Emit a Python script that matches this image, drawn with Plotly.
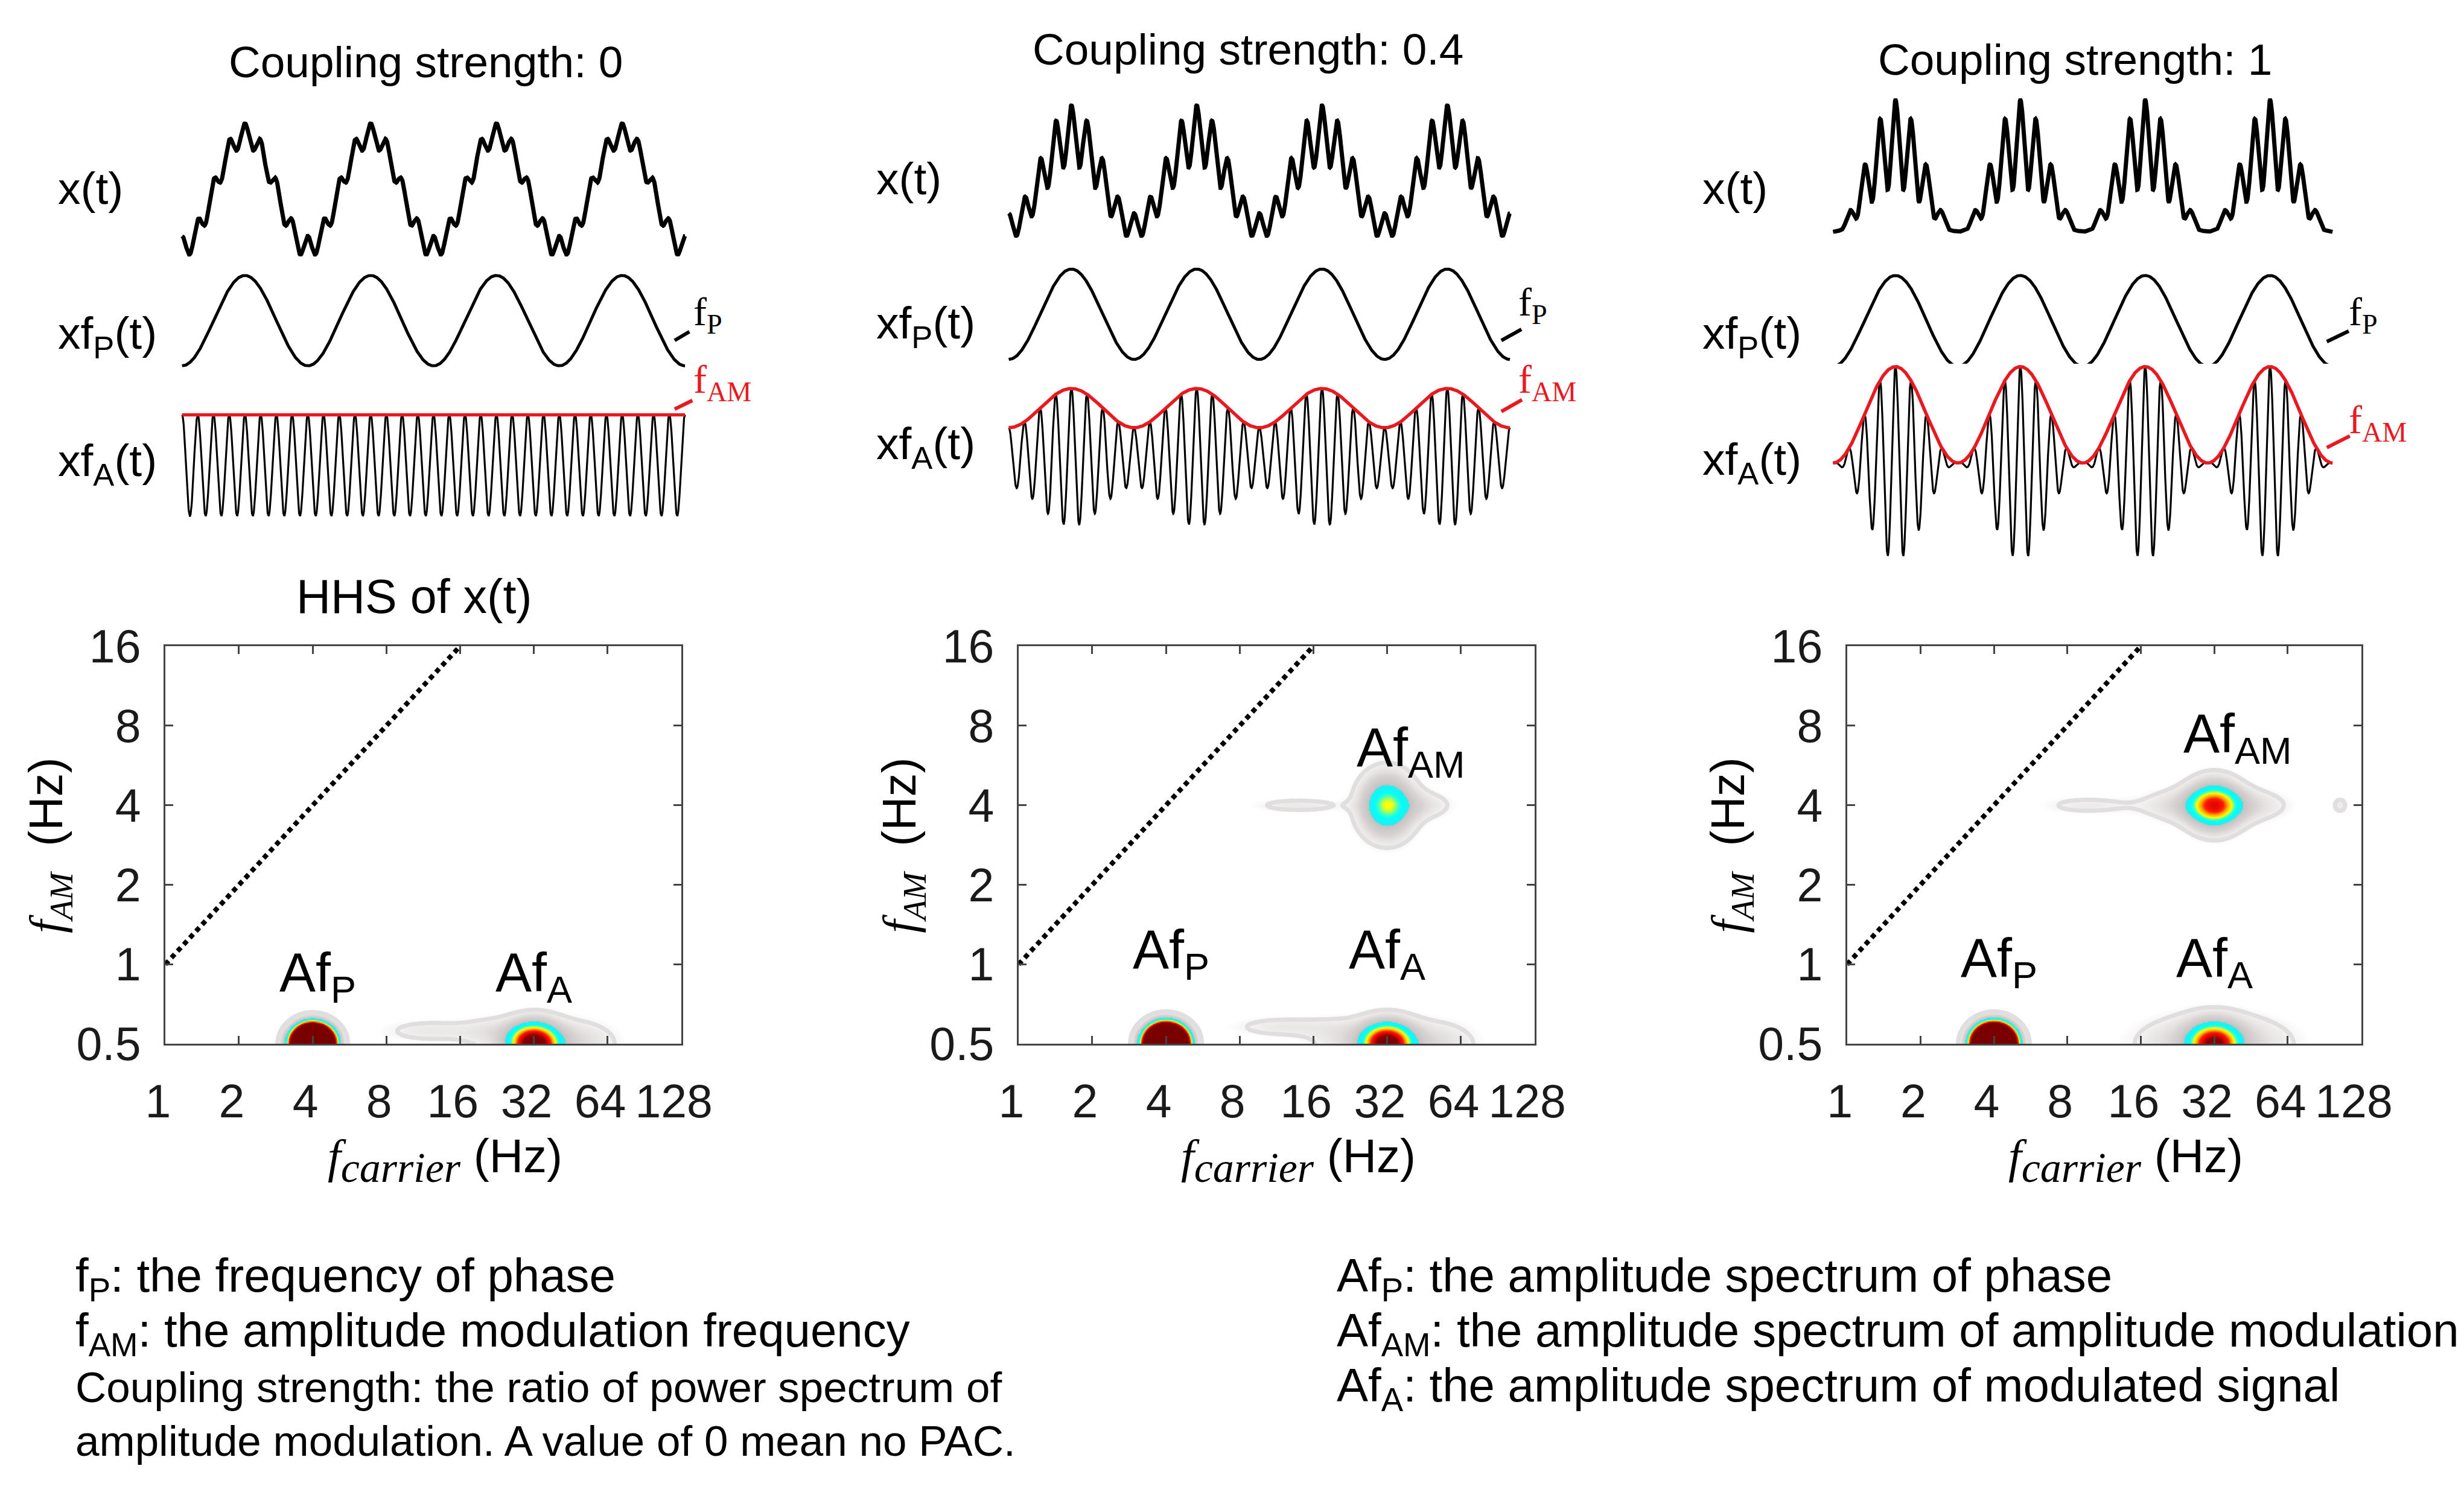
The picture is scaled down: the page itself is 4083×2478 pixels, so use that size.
import numpy as np
import plotly.graph_objects as go

W, H = 4083, 2478

# ---------------- data ----------------
COUPLING = [0, 0.4, 1]
COL_TITLES = ["Coupling strength: 0", "Coupling strength: 0.4", "Coupling strength: 1"]
F_PHASE = 4            # Hz (4 cycles in the 1 s window)
F_CARRIER = 32         # Hz (32 cycles in the 1 s window)
XT_CARRIER_WEIGHT = [0.2, 0.65, 1.0]   # weight of xfA in x(t)
DURATION = 1.0

X_TICKS = [1, 2, 4, 8, 16, 32, 64, 128]
Y_TICKS = [0.5, 1, 2, 4, 8, 16]
DIAG_X = [1, 16]
DIAG_Y = [1, 16]

# HHS spectral blobs (panel index, carrier Hz, AM Hz, amplitude, width x / y in octaves)
BLOB_PANEL = [0, 0, 0, 0, 0,
              1, 1, 1, 1, 1, 1, 1, 1,
              2, 2, 2, 2, 2, 2, 2]
BLOB_FC = [4, 32, 46, 12, 22,
           4, 32, 46, 22, 12, 32, 44, 14,
           4, 32, 32, 32, 32, 9.5, 105]
BLOB_FAM = [0.5, 0.5, 0.5, 0.56, 0.55,
            0.5, 0.5, 0.5, 0.52, 0.58, 4, 4, 4,
            0.5, 0.5, 0.5, 4, 4, 4, 4]
BLOB_AMP = [7.0, 1.0, 0.14, 0.08, 0.09,
            7.0, 0.95, 0.14, 0.10, 0.08, 0.50, 0.10, 0.08,
            7.0, 0.75, 0.20, 0.56, 0.22, 0.07, 0.07]
BLOB_SX = [0.152, 0.225, 0.40, 0.45, 0.30,
           0.155, 0.225, 0.45, 0.35, 0.50, 0.23, 0.30, 0.45,
           0.155, 0.225, 0.65, 0.23, 0.55, 0.45, 0.08]
BLOB_SY = [0.127, 0.17, 0.20, 0.10, 0.14,
           0.13, 0.17, 0.20, 0.18, 0.09, 0.25, 0.12, 0.06,
           0.13, 0.17, 0.24, 0.20, 0.14, 0.08, 0.08]

# label positions of spectral components (carrier Hz, AM Hz)
LABEL_TEXT = ["Af<sub>P</sub>", "Af<sub>A</sub>", "Af<sub>AM</sub>"]
LABEL_FC = [4.2, 32, 40]
LABEL_FAM = [[0.9, 0.9, None], [1.1, 1.1, 6.4], [1.02, 1.02, 7.2]]

# ---------------- layout geometry (pixels) ----------------
SANS = "Liberation Sans, Arial, sans-serif"
SERIF = "Liberation Serif, Times New Roman, serif"
RED = "#e8191f"

WAVE_X = [(271, 1129), (1670, 2525), (3065, 3917)]
WAVE_Y = [  # rows: x(t), xfP(t), xfA(t)
    [(168, 392), (430, 582), (669, 840)],
    [(137, 360), (419, 571), (623, 858)],
    [(128, 353), (430, 583), (584, 917)],
]
HEAT_X = [(246, 1119), (1690, 2563), (3092, 3962)]
HEAT_Y = (1065, 1748)

TITLE_POS = [(687, 62), (2078, 40), (3478, 58)]
LABEL_X = [62, 1447, 2845]
LABEL_Y = [(279, 533, 752), (262, 515, 723), (279, 533, 750)]
FP_TXT = [(1138, 496), (2534, 479), (3939, 496)]
FAM_TXT = [(1138, 612), (2534, 612), (3939, 681)]
FP_SEG = [((1108, 540), (1133, 525)), ((2507, 540), (2541, 521)), ((3904, 542), (3941, 524))]
FAM_SEG = [((1108, 658), (1138, 643)), ((2507, 662), (2542, 642)), ((3904, 724), (3943, 704))]


def dx(a, b):
    return [a / W, b / W]


def dy(a, b):
    return [1 - b / H, 1 - a / H]


fig = go.Figure()
layout = {}
annotations = []
shapes = []


def ann(text, px, py, size, family=SANS, color="black", xanchor="left",
        yanchor="middle", angle=0):
    annotations.append(dict(text=text, x=px / W, y=1 - py / H, xref="paper", yref="paper",
                            showarrow=False, font=dict(size=size, family=family, color=color),
                            xanchor=xanchor, yanchor=yanchor, textangle=angle))


t = np.linspace(0, DURATION, 2401)
phase_sig = -np.cos(2 * np.pi * F_PHASE * t)
carrier = np.cos(2 * np.pi * F_CARRIER * t)

fx = 2 ** np.linspace(0, 7, 421)
fy = 2 ** np.linspace(-1, 4, 331)
LX, LY = np.meshgrid(np.log2(fx), np.log2(fy))

CS = [
    [0.0, "#ffffff"], [0.025, "#ffffff"], [0.07, "#eeebeb"], [0.16, "#d8d3d3"],
    [0.295, "#c6c1c1"], [0.30, "#27eded"], [0.41, "#00ffff"], [0.47, "#50ffb0"],
    [0.53, "#ffff00"], [0.62, "#ffa800"], [0.70, "#ff1a00"], [0.80, "#dd0000"],
    [0.88, "#8b0000"], [1.0, "#7a0000"],
]

LINE_W = [7, 5, 3.2]

for j in range(3):
    c = COUPLING[j]
    k = XT_CARRIER_WEIGHT[j]
    env = (1 + c * phase_sig) / (1 + c)
    xfa = env * carrier
    xt = phase_sig + k * env * carrier
    series = [xt, phase_sig, xfa]
    for r in range(3):
        idx = j * 4 + r + 1
        xa, ya = f"x{idx}", f"y{idx}"
        lo, hi = float(series[r].min()), float(series[r].max())
        if r == 2:
            lo, hi = -1.0, 1.0
        pad = 0.015 * (hi - lo)
        fig.add_trace(go.Scatter(x=t, y=series[r], mode="lines",
                                 line=dict(color="black", width=LINE_W[r]),
                                 xaxis=xa, yaxis=ya, showlegend=False, hoverinfo="skip"))
        if r == 2:
            fig.add_trace(go.Scatter(x=t, y=env, mode="lines",
                                     line=dict(color=RED, width=5.5),
                                     xaxis=xa, yaxis=ya, showlegend=False, hoverinfo="skip"))
        x0, x1 = WAVE_X[j]
        y0, y1 = WAVE_Y[j][r]
        layout[f"xaxis{idx}"] = dict(domain=dx(x0, x1), range=[-0.004, DURATION + 0.004],
                                     visible=False, anchor=ya, fixedrange=True)
        layout[f"yaxis{idx}"] = dict(domain=dy(y0 - 4, y1 + 4), range=[lo - pad, hi + pad],
                                     visible=False, anchor=xa, fixedrange=True)

    # ---- HHS heatmap ----
    idx = j * 4 + 4
    xa, ya = f"x{idx}", f"y{idx}"
    z = np.zeros_like(LX)
    for p, fc, fam, amp, sx, sy in zip(BLOB_PANEL, BLOB_FC, BLOB_FAM, BLOB_AMP, BLOB_SX, BLOB_SY):
        if p != j:
            continue
        z += amp * np.exp(-0.5 * ((LX - np.log2(fc)) / sx) ** 2
                          - 0.5 * ((LY - np.log2(fam)) / sy) ** 2)
    fig.add_trace(go.Heatmap(x=fx, y=fy, z=z, zmin=0, zmax=1, colorscale=CS,
                             showscale=False, hoverinfo="skip", xaxis=xa, yaxis=ya))
    fig.add_trace(go.Contour(x=fx, y=fy, z=z, showscale=False, hoverinfo="skip",
                             contours=dict(start=0.05, end=0.05, size=1, coloring="none"),
                             line=dict(color="#e0dede", width=7, smoothing=1),
                             xaxis=xa, yaxis=ya))
    fig.add_trace(go.Scatter(x=DIAG_X, y=DIAG_Y, mode="lines",
                             line=dict(color="black", width=8, dash="8px,7px"),
                             xaxis=xa, yaxis=ya, showlegend=False, hoverinfo="skip"))
    hx0, hx1 = HEAT_X[j]
    axis_common = dict(type="log", showline=True, linecolor="#444444", linewidth=3,
                       mirror="allticks", ticks="inside", ticklen=13, tickwidth=3,
                       tickcolor="#444444", showgrid=False, zeroline=False,
                       tickfont=dict(size=77, family=SANS, color="#1a1a1a"), fixedrange=True)
    layout[f"xaxis{idx}"] = dict(axis_common, domain=dx(hx0, hx1), anchor=ya,
                                 range=[0, np.log10(128)], tickvals=X_TICKS,
                                 ticktext=[str(v) for v in X_TICKS], ticklabelstandoff=26,
                                 ticklabelshift=-12)
    layout[f"yaxis{idx}"] = dict(axis_common, domain=dy(*HEAT_Y), anchor=xa,
                                 range=[np.log10(0.5), np.log10(16)], tickvals=Y_TICKS,
                                 ticktext=[str(v) for v in Y_TICKS], ticklabelstandoff=22)
    for li, txt in enumerate(LABEL_TEXT):
        fam = LABEL_FAM[j][li]
        if fam is None:
            continue
        annotations.append(dict(text=txt, x=np.log10(LABEL_FC[li]), y=np.log10(fam),
                                xref=xa, yref=ya, showarrow=False, xanchor="center",
                                yanchor="middle",
                                font=dict(size=90, family=SANS, color="black")))

    # axis titles
    ann("<i>f</i><sub><i>AM</i></sub><span style=\"font-family:Liberation Sans\">  (Hz)</span>",
        hx0 - 196, (HEAT_Y[0] + HEAT_Y[1]) / 2, 78, family=SERIF, xanchor="center", angle=-90)
    ann("<i>f<sub><span style=\"font-size:70px\">carrier</span></sub></i>"
        "<span style=\"font-family:Liberation Sans\"> (Hz)</span>",
        (hx0 + hx1) / 2 + 37, 1948, 78, family=SERIF, xanchor="center")

    # column titles, trace labels
    ann(COL_TITLES[j], TITLE_POS[j][0], TITLE_POS[j][1], 73, xanchor="center")
    for r, lab in enumerate(["x(t)", "xf<sub>P</sub>(t)", "xf<sub>A</sub>(t)"]):
        ann(lab, LABEL_X[j], LABEL_Y[j][r], 75)
    ann("f<sub>P</sub>", FP_TXT[j][0], FP_TXT[j][1], 66, family=SERIF)
    ann("f<sub>AM</sub>", FAM_TXT[j][0], FAM_TXT[j][1], 66, family=SERIF, color=RED)
    for seg, col in ((FP_SEG[j], "black"), (FAM_SEG[j], RED)):
        (a0, b0), (a1, b1) = seg
        shapes.append(dict(type="line", xref="paper", yref="paper", x0=a0 / W, y0=1 - b0 / H,
                           x1=a1 / W, y1=1 - b1 / H, line=dict(color=col, width=6)))

ann("HHS of x(t)", 667, 980, 79, xanchor="center")

# notes at the bottom
ann("f<sub>P</sub>: the frequency of phase", 92, 2151, 78)
ann("f<sub>AM</sub>: the amplitude modulation frequency", 92, 2245, 78)
ann("Coupling strength: the ratio of power spectrum of", 92, 2338, 71)
ann("amplitude modulation. A value of 0 mean no PAC.", 92, 2430, 71)
ann("Af<sub>P</sub>: the amplitude spectrum of phase", 2226, 2151, 78)
ann("Af<sub>AM</sub>: the amplitude spectrum of amplitude modulation", 2226, 2245, 78)
ann("Af<sub>A</sub>: the amplitude spectrum of modulated signal", 2226, 2340, 78)

fig.update_layout(width=W, height=H, margin=dict(l=0, r=0, t=0, b=0),
                  paper_bgcolor="white", plot_bgcolor="white", showlegend=False,
                  annotations=annotations, shapes=shapes, **layout)

fig.write_html("out.html", config={"displayModeBar": False},
               post_script="document.body.style.margin='0';document.body.style.overflow='hidden';")
